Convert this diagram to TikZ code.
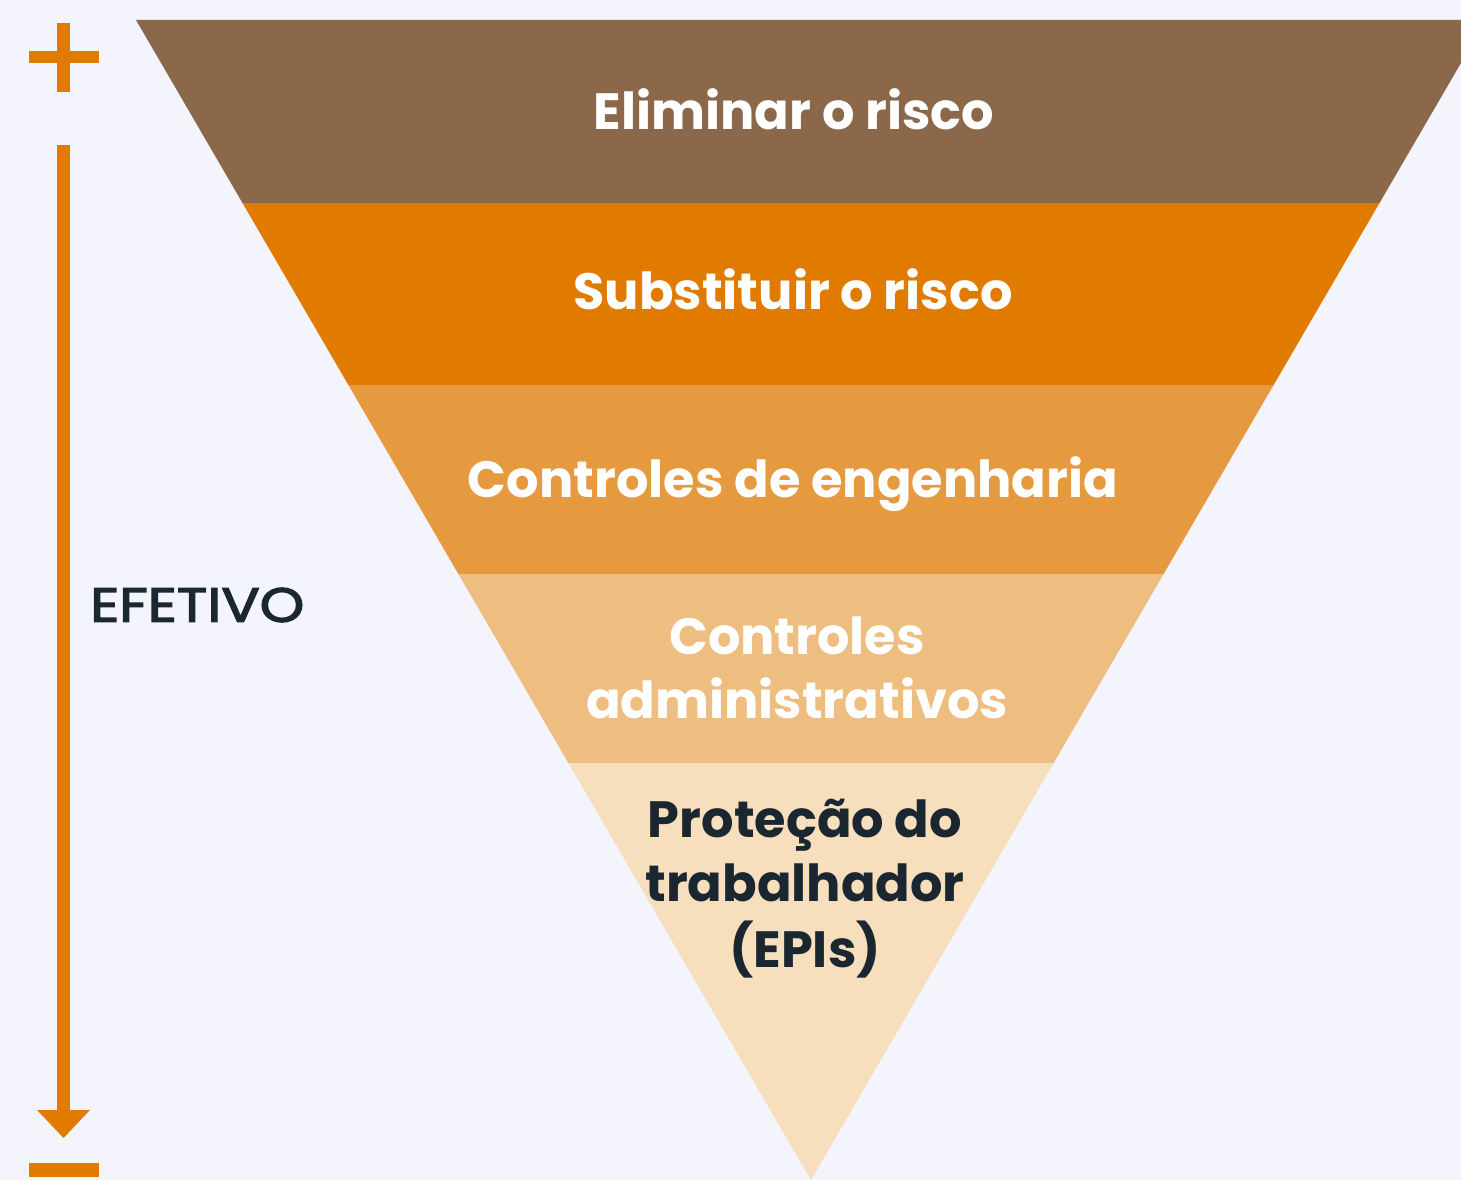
\documentclass[tikz,border=0pt]{standalone}
\usepackage{fontspec}
\setmainfont{Poppins}
\newfontfamily\sidefont{Poppins}[FakeStretch=1.18,FakeBold=3]
\definecolor{bgc}{HTML}{F3F4FC}
\definecolor{bandA}{HTML}{8B6849}
\definecolor{bandB}{HTML}{E07B00}
\definecolor{bandC}{HTML}{E59A40}
\definecolor{bandD}{HTML}{EEBD80}
\definecolor{bandE}{HTML}{F7DEBD}
\definecolor{darktxt}{HTML}{1B2730}
\definecolor{accent}{HTML}{E07B00}
\tikzset{
  bandtext/.style={text=white, font=\fontsize{51}{64}\selectfont\bfseries, align=center, inner sep=0pt},
  darkbandtext/.style={bandtext, text=darktxt},
  sidetext/.style={text=darktxt, font=\fontsize{48}{58}\selectfont\sidefont, anchor=west, inner sep=0pt},
  accentbar/.style={fill=accent}
}
\begin{document}
\begin{tikzpicture}[x=1pt,y=-1pt]
\useasboundingbox (0,0) rectangle (1461,1180);
\fill[bgc] (0,0) rectangle (1461,1180);
\begin{scope}
\clip (0,0) rectangle (1461,1180);
\fill[bandA] (136,20) -- (1486,20) -- (1379.5,203) -- (242.5,203) -- cycle;
\fill[bandB] (242.5,203) -- (1379.5,203) -- (1273.6,385) -- (348.4,385) -- cycle;
\fill[bandC] (348.4,385) -- (1273.6,385) -- (1163.6,574) -- (458.4,574) -- cycle;
\fill[bandD] (458.4,574) -- (1163.6,574) -- (1053.6,763) -- (568.4,763) -- cycle;
\fill[bandE] (568.4,763) -- (1053.6,763) -- (811,1180) -- cycle;
\end{scope}
\node[bandtext] (t1) at (794,109) {Eliminar o risco};
\node[bandtext] (t2) at (793,289) {Substituir o risco};
\node[bandtext] (t3) at (793,484) {Controles de engenharia};
\node[bandtext] (t4) at (797,668) {Controles\\administrativos};
\node[darkbandtext] (t5) at (805,889) {Proteção do\\trabalhador\\[2pt](EPIs)};
\node[sidetext] (eff) at (90,605) {EFETIVO};
% plus
\fill[accentbar] (57,23) rectangle (70,92);
\fill[accentbar] (29,51) rectangle (99,63);
% arrow
\coordinate (atop) at (63.5,145);
\coordinate (abase) at (63.5,1111);
\coordinate (atip) at (63.5,1138);
\draw[accent, line width=13pt] (atop) -- (abase);
\fill[accent] (37,1110) -- (90,1110) -- (atip) -- cycle;
% minus
\fill[accentbar] (29,1163) rectangle (99,1177);
\end{tikzpicture}
\end{document}
